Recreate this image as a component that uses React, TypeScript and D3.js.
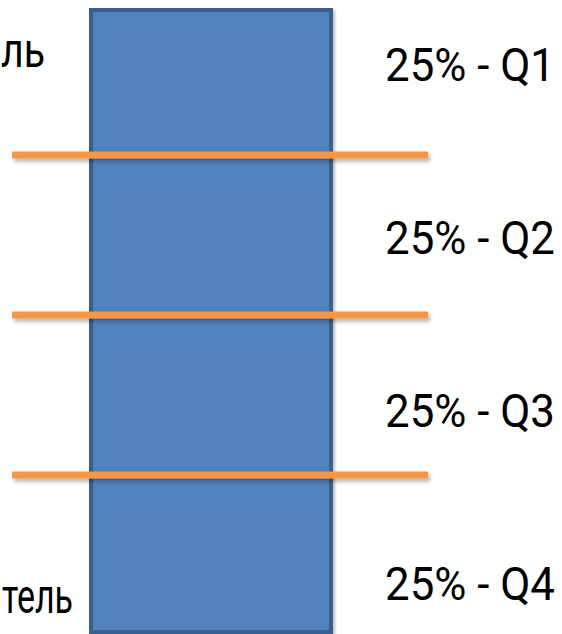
import React from "react";
import * as d3 from "d3";

const quartiles = ["Q1", "Q2", "Q3", "Q4"];
const shares = [25, 25, 25, 25];
const boundaries = [25, 50, 75];
const leftLabels = ["ль", "тель"];

const W = 562;
const H = 634;

export default function App() {
  // percentage scale for the column (0% top .. 100% bottom)
  const y = d3.scaleLinear().domain([0, 100]).range([-5, 635]);
  const labelY = d3.scalePoint<string>().domain(quartiles).range([65, 584]);

  const rect = { x: 91, y: 10, w: 240, h: 622 };
  const lineW = 7;

  return (
    <svg
      width={W}
      height={H}
      style={{ position: "fixed", left: 0, top: 0, overflow: "hidden", background: "#fff" }}
      fontFamily="Roboto, 'Open Sans', sans-serif"
    >
      <defs>
        <filter id="shadow" filterUnits="userSpaceOnUse" x="0" y="0" width={W} height={H}>
          <feDropShadow dx="2" dy="3" stdDeviation="2" floodColor="#000" floodOpacity="0.3" />
        </filter>
        <filter id="rshadow" filterUnits="userSpaceOnUse" x="0" y="0" width={W} height={H}>
          <feDropShadow dx="2" dy="2" stdDeviation="1.5" floodColor="#000" floodOpacity="0.25" />
        </filter>
      </defs>
      <rect
        x={rect.x}
        y={rect.y}
        width={rect.w}
        height={rect.h}
        fill="#4f81bd"
        stroke="#3a5f8b"
        strokeWidth={4}
        filter="url(#rshadow)"
      />
      {boundaries.map((b) => (
        <rect
          key={b}
          x={12}
          width={416}
          y={y(b) - lineW / 2}
          height={lineW}
          fill="#f79646"
          filter="url(#shadow)"
        />
      ))}
      {quartiles.map((q, i) => (
        <text
          key={q}
          x={385}
          y={(labelY(q) as number) + 16}
          fontSize={46}
          fill="#000"
          textLength={170}
          lengthAdjust="spacingAndGlyphs"
        >
          {`${shares[i]}% - ${q}`}
        </text>
      ))}
      <text x={45} y={67} fontSize={48} textAnchor="end" fill="#000" textLength={44} lengthAdjust="spacingAndGlyphs">
        {leftLabels[0]}
      </text>
      <text x={73} y={613} fontSize={48} textAnchor="end" fill="#000" textLength={71} lengthAdjust="spacingAndGlyphs">
        {leftLabels[1]}
      </text>
    </svg>
  );
}
